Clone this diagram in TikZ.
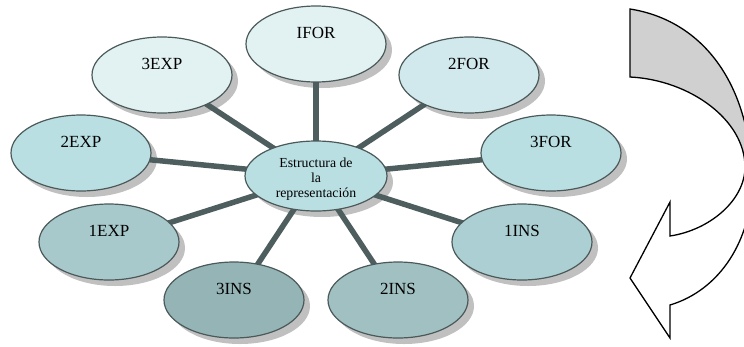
\documentclass[tikz,border=0pt]{standalone}
\usepackage{fontspec}
\setmainfont{Liberation Serif}
\usetikzlibrary{shapes.geometric,calc}
\pgfdeclarelayer{shadowlayer}
\pgfdeclarelayer{background}
\pgfsetlayers{shadowlayer,background,main}
\definecolor{cA}{HTML}{E2F2F3}
\definecolor{cB}{HTML}{D1E9EC}
\definecolor{cC}{HTML}{BADFE3}
\definecolor{cD}{HTML}{ABCFD2}
\definecolor{cE}{HTML}{A8C9CC}
\definecolor{cF}{HTML}{A1C0C2}
\definecolor{cG}{HTML}{95B4B6}
\definecolor{edgec}{HTML}{4B5959}
\definecolor{linkc}{HTML}{4E5E5E}
\definecolor{shadowc}{HTML}{C0C0C0}
\definecolor{arrowgray}{HTML}{D0D0D0}
\begin{document}
\begin{tikzpicture}[x=1pt,y=-1pt,
  bubble/.style={ellipse, draw=edgec, line width=1.2pt, minimum width=140pt,
    minimum height=76pt, inner sep=0pt, font=\fontsize{17}{20}\selectfont,
    text height=10pt, text depth=22pt},
  hub/.style={ellipse, draw=edgec, line width=1.2pt, minimum width=142pt,
    minimum height=70pt, inner sep=0pt, align=center,
    font=\fontsize{13.8}{15}\selectfont},
  link/.style={draw=linkc, line width=5.5pt},
  outline/.style={draw=black, line width=1.3pt, line join=miter}]
\useasboundingbox (0,0) rectangle (744,346);

\node[hub, fill=cC] (C) at (316,176) {\rule{0pt}{15pt}Estructura de\\la\\representación};
\node[bubble, fill=cA] (ifor) at (316,44) {IFOR};
\node[bubble, fill=cB] (for2) at (469,75) {2FOR};
\node[bubble, fill=cC] (for3) at (551,153) {3FOR};
\node[bubble, fill=cD] (ins1) at (522,242) {1INS};
\node[bubble, fill=cF] (ins2) at (398,300) {2INS};
\node[bubble, fill=cG] (ins3) at (234,300) {3INS};
\node[bubble, fill=cE] (exp1) at (109,242) {1EXP};
\node[bubble, fill=cC] (exp2) at (81,153) {2EXP};
\node[bubble, fill=cA] (exp3) at (162,75) {3EXP};

\begin{pgfonlayer}{background}
  \foreach \n in {ifor,for2,for3,ins1,ins2,ins3,exp1,exp2,exp3}
    \draw[link] (C.center) -- (\n.center);
\end{pgfonlayer}

\begin{pgfonlayer}{shadowlayer}
  \fill[shadowc] ($(C.center)+(6,6)$) ellipse [x radius=71pt, y radius=35pt];
  \foreach \n in {ifor,for2,for3,ins1,ins2,ins3,exp1,exp2,exp3}
    \fill[shadowc] ($(\n.center)+(6,6)$) ellipse [x radius=70pt, y radius=38pt];
\end{pgfonlayer}

\begin{scope}
  \clip (600,0) rectangle (744,346);
  \begin{scope}
    \clip (600,0) rectangle (744,167);
    \fill[arrowgray] (630,9) .. controls (700,20) and (750,80) .. (752,180)
      .. controls (752,240) and (720,290) .. (670,305) -- (670,338) -- (630,278)
      -- (670,202) -- (670,236) .. controls (710,230) and (745,200) .. (745,167)
      .. controls (745,120) and (690,80) .. (630,77) -- cycle;
  \end{scope}
  \draw[outline] (630,9) .. controls (700,20) and (750,80) .. (752,180)
    .. controls (752,240) and (720,290) .. (670,305) -- (670,338) -- (630,278)
    -- (670,202) -- (670,236) .. controls (710,230) and (745,200) .. (745,167)
    .. controls (745,120) and (690,80) .. (630,77) -- cycle;
\end{scope}
\end{tikzpicture}
\end{document}
